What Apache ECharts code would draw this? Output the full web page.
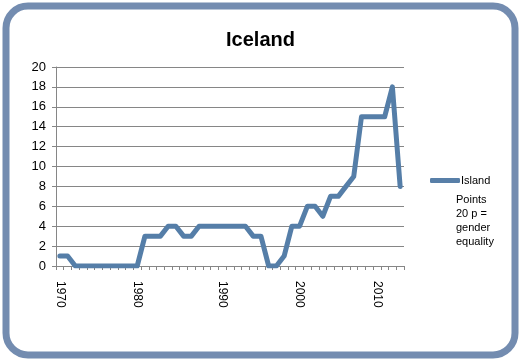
<!DOCTYPE html>
<html>
<head>
<meta charset="utf-8">
<script src="https://cdn.jsdelivr.net/npm/echarts@6/dist/echarts.min.js"></script>
<style>
html,body{margin:0;padding:0;background:#fff;}
#c{width:521px;height:363px;}
</style>
</head>
<body>
<div id="c"></div>
<script>
// Categories (one year appears twice in the source sheet)
var years = ['1970','1971','1972','1973','1974','1975','1976','1977','1978','1979',
  '1980','1981','1982','1983','1983','1984','1985','1986','1987','1988','1989',
  '1990','1991','1992','1993','1994','1995','1996','1997','1998','1999',
  '2000','2001','2002','2003','2004','2005','2006','2007','2008','2009',
  '2010','2011','2012','2013'];
var island = [1,1,0,0,0,0,0,0,0,0,0,
  3,3,3,4,4,3,3,4,4,4,4,4,4,4,
  3,3,0,0,1,4,4,6,6,5,7,7,8,9,15,15,15,15,18,8];
var xTickLabels = ['1970','1980','1990','2000','2010'];
var seriesName = 'Island';
var titleText = 'Iceland';
var noteText = 'Points\n20 p =\ngender\nequality';

var chart = echarts.init(document.getElementById('c'));
chart.setOption({
  animation: false,
  backgroundColor: '#ffffff',
  title: {
    text: titleText, left: 'center', top: 25,
    textStyle: {fontFamily: 'Liberation Sans', fontSize: 20, fontWeight: 'bold', color: '#000'}
  },
  grid: {left: 56, right: 117, top: 67, bottom: 97},
  legend: {
    data: [{name: seriesName, icon: 'roundRect'}], left: 425, top: 170, orient: 'vertical',
    itemWidth: 30, itemHeight: 5, itemGap: 4,
    itemStyle: {color: '#587fa8'},
    textStyle: {fontFamily: 'Liberation Sans', fontSize: 11, color: '#000', padding: [0,0,0,-4]}
  },
  xAxis: {
    type: 'category', data: years, boundaryGap: true,
    axisLine: {lineStyle: {color: '#868686', width: 1}},
    axisTick: {show: true, interval: 0, length: 4, lineStyle: {color: '#868686'}},
    axisLabel: {
      interval: function (i, v) { return xTickLabels.indexOf(v) >= 0 && years.indexOf(v) === i; },
      rotate: -90, margin: 15, color: '#000',
      fontFamily: 'Liberation Sans', fontSize: 12
    }
  },
  yAxis: {
    type: 'value', min: 0, max: 20, interval: 2,
    axisLine: {show: true, lineStyle: {color: '#868686'}},
    axisTick: {show: true, length: 4, lineStyle: {color: '#868686'}},
    splitLine: {lineStyle: {color: '#868686', width: 1}},
    axisLabel: {margin: 10, color: '#000', fontFamily: 'Liberation Sans', fontSize: 13}
  },
  series: [{
    name: seriesName, type: 'line', data: island, symbol: 'none',
    lineStyle: {color: '#557ea8', width: 5, cap: 'round', join: 'round'},
    itemStyle: {color: '#557ea8'}
  }],
  graphic: [
    {type: 'rect', shape: {x: 6, y: 6, width: 509, height: 349, r: 22},
     style: {fill: 'none', stroke: '#738cb0', lineWidth: 7}, silent: true},
    {type: 'text', left: 456, top: 193,
     style: {text: noteText, font: '11px "Liberation Sans"', fill: '#000', lineHeight: 14}}
  ]
});
</script>
</body>
</html>
